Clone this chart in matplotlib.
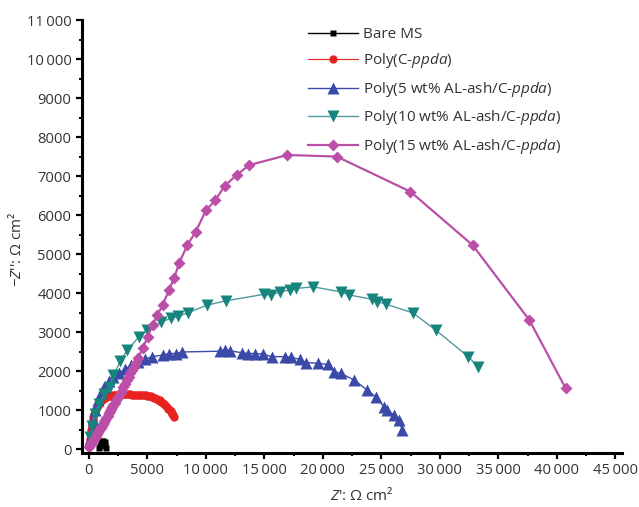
import matplotlib
matplotlib.use("Agg")
import matplotlib.pyplot as plt
from matplotlib.ticker import FixedLocator, MultipleLocator

plt.rcParams['font.family'] = ['Open Sans', 'DejaVu Sans']
plt.rcParams['mathtext.fontset'] = 'custom'
plt.rcParams['mathtext.rm'] = 'Open Sans'
plt.rcParams['mathtext.it'] = 'Open Sans:italic'

labels = ["Bare MS", "Poly(C-$\\mathit{ppda}$)", "Poly(5 wt% AL-ash/C-$\\mathit{ppda}$)",
          "Poly(10 wt% AL-ash/C-$\\mathit{ppda}$)", "Poly(15 wt% AL-ash/C-$\\mathit{ppda}$)"]

bare_x = [850, 950, 1050, 1150, 1250, 1350, 1420, 1480]
bare_y = [20, 90, 160, 210, 220, 180, 110, 40]

c_x = [30, 60, 100, 150, 190, 230, 280, 330, 390, 450, 520, 600, 680, 750, 830, 900, 1000,
       1100, 1200, 1300, 1400, 1500, 1620, 1750, 1870, 2000, 2150, 2300, 2450, 2600, 2750,
       2900, 3050, 3200, 3350, 3500, 3650, 3800, 3950, 4100, 4250, 4400, 4550, 4700, 4850,
       5000, 5150, 5300, 5420, 5550, 5680, 5800, 5920, 6050, 6180, 6300, 6430, 6550, 6680,
       6800, 6900, 7000, 7080, 7150, 7230, 7300]
c_y = [100, 180, 250, 400, 480, 570, 660, 750, 830, 900, 960, 1020, 1080, 1120, 1160, 1200,
       1230, 1260, 1280, 1300, 1320, 1340, 1350, 1360, 1368, 1375, 1380, 1385, 1390, 1395,
       1398, 1400, 1400, 1400, 1400, 1400, 1398, 1395, 1392, 1390, 1388, 1385, 1382, 1380,
       1375, 1370, 1360, 1350, 1335, 1320, 1305, 1290, 1270, 1250, 1220, 1190, 1155, 1120,
       1080, 1040, 1005, 970, 935, 900, 865, 830]

p5_x = [100, 250, 400, 550, 750, 1000, 1300, 1700, 2100, 2600, 3100, 3600, 4200, 4800, 5400,
        6300, 6860, 7430, 7990, 11250, 11670, 12090, 13080, 13640, 14210, 14920, 15620,
        16760, 17310, 18030, 18590, 19580, 20420, 20990, 21550, 22690, 23810, 24520, 25230,
        25510, 26080, 26500, 26780]
p5_y = [250, 500, 750, 1000, 1250, 1450, 1600, 1750, 1850, 1950, 2050, 2150, 2230, 2300, 2370,
        2410, 2450, 2450, 2490, 2510, 2550, 2520, 2470, 2450, 2450, 2435, 2370, 2370, 2350,
        2300, 2220, 2200, 2170, 1980, 1940, 1770, 1510, 1340, 1085, 1000, 870, 745, 490]

p10_x = [100, 300, 500, 900, 1300, 1800, 2100, 2700, 3300, 4300, 5000, 6200, 7000, 7600, 8500,
         10100, 11700, 15000, 15600, 16300, 17200, 17700, 19200, 21550, 22260, 24240, 24660,
         25360, 27710, 29660, 32430, 33280]
p10_y = [300, 600, 900, 1150, 1400, 1600, 1900, 2250, 2550, 2880, 3050, 3260, 3350, 3400, 3500,
         3690, 3800, 3970, 3950, 4030, 4080, 4120, 4160, 4030, 3950, 3840, 3780, 3720, 3490,
         3050, 2370, 2110]

p15_x = [50, 200, 300, 400, 500, 600, 700, 800, 900, 1000, 1100, 1200, 1300, 1400, 1500, 1600,
         1700, 1800, 1900, 2000, 2100, 2200, 2350, 2500, 2650, 2800, 2950, 3100, 3250, 3400,
         3550, 3700, 3850, 4000, 4200, 4600, 5030, 5450, 5870, 6300, 6860, 7290, 7710, 8420,
         9130, 10030, 10820, 11610, 12650, 13700, 16980, 21190, 27490, 32800, 37650, 40760]
p15_y = [50, 120, 175, 230, 280, 330, 380, 430, 485, 540, 590, 640, 695, 750, 805, 860, 915,
         970, 1025, 1080, 1135, 1190, 1265, 1340, 1420, 1500, 1590, 1680, 1765, 1850, 1940,
         2030, 2115, 2200, 2330, 2580, 2880, 3180, 3440, 3690, 4080, 4380, 4760, 5230, 5570,
         6130, 6380, 6750, 7030, 7280, 7540, 7500, 6600, 5230, 3310, 1556]

x_ticks = [0, 5000, 10000, 15000, 20000, 25000, 30000, 35000, 40000, 45000]
y_ticks = [0, 1000, 2000, 3000, 4000, 5000, 6000, 7000, 8000, 9000, 10000, 11000]


def fmt(v):
    s = str(v)
    if v >= 10000:
        s = s[:-3] + "\u2009" + s[-3:]
    return s


fig = plt.figure(figsize=(6.39, 5.07), dpi=100)
ax = fig.add_axes([0.128, 0.1065, 0.845, 0.854])

ax.plot(bare_x, bare_y, '-s', color='black', lw=1.0, ms=5, mec='none', label=labels[0])
ax.plot(c_x, c_y, '-o', color='#e8231f', lw=0.8, ms=6, mec='none', label=labels[1])
ax.plot(p5_x, p5_y, '-^', color='#3b4aa8', lw=1.0, ms=8, mec='none', label=labels[2])
ax.plot(p10_x, p10_y, '-v', color='#4f9aa0', mfc='#18857c', lw=1.0, ms=8, mec='none',
        label=labels[3])
ax.plot(p15_x, p15_y, '-D', color='#bb4fa7', lw=1.6, ms=6.5, mec='none', label=labels[4])

ax.set_xlim(-600, 45550)
ax.set_ylim(-100, 11000)
ax.xaxis.set_major_locator(FixedLocator(x_ticks))
ax.yaxis.set_major_locator(FixedLocator(y_ticks))
ax.xaxis.set_minor_locator(MultipleLocator(2500))
ax.yaxis.set_minor_locator(MultipleLocator(500))
ax.set_xticklabels([fmt(v) for v in x_ticks])
ax.set_yticklabels([fmt(v) for v in y_ticks])

for s in ['top', 'right']:
    ax.spines[s].set_visible(False)
for s in ['left', 'bottom']:
    ax.spines[s].set_linewidth(2.2)
ax.tick_params(which='major', direction='out', length=4.5, width=1.6, labelsize=10.6,
               colors='black', labelcolor='#333333', pad=3)
ax.tick_params(which='minor', direction='out', length=2.5, width=1.4)

ax.set_xlabel("$\\mathit{Z}$': Ω cm²", fontsize=11, color='#333333')
ax.set_ylabel("−$\\mathit{Z}$'': Ω cm²", fontsize=11, color='#333333')
ax.xaxis.set_label_coords(0.518, -0.078)
ax.yaxis.set_label_coords(-0.105, 0.47)

leg = ax.legend(loc='upper left', bbox_to_anchor=(308 / 639, 1 - 27 / 507),
                bbox_transform=fig.transFigure, frameon=False, fontsize=11,
                handlelength=3.3, handletextpad=0.3, labelspacing=0.62,
                borderpad=0, borderaxespad=0)
for t in leg.get_texts():
    t.set_color('#333333')

fig.savefig('out.png', dpi=100)
